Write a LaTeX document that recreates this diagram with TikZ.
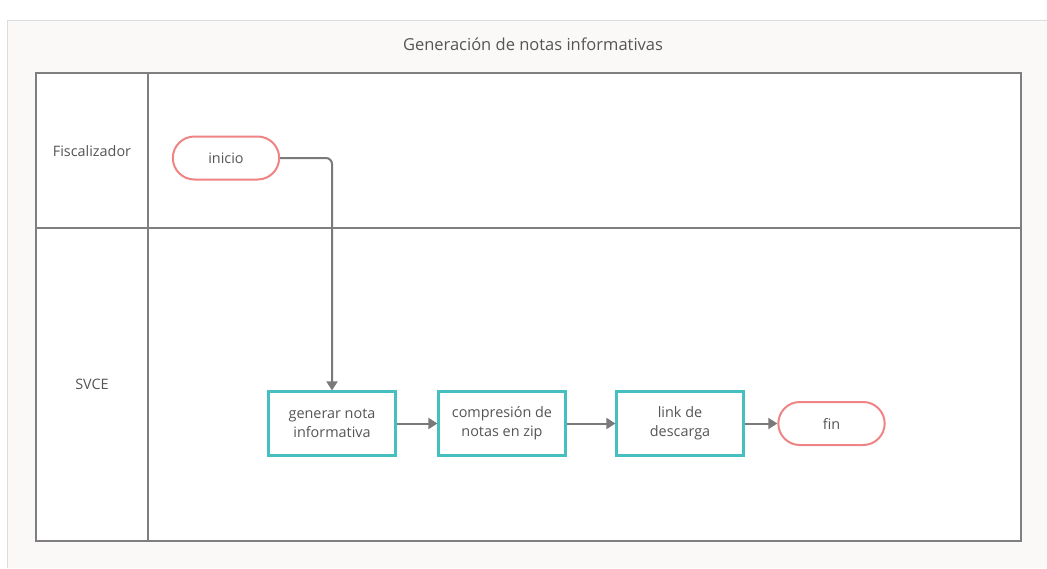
\documentclass[tikz,border=0pt]{standalone}
\usepackage{fontspec}
\setmainfont{Open Sans}
\usetikzlibrary{arrows.meta,shapes.misc}
\definecolor{panelbg}{HTML}{FAF9F7}
\definecolor{panelline}{HTML}{DCDCDC}
\definecolor{poolline}{HTML}{7F7F7F}
\definecolor{txt}{HTML}{555555}
\definecolor{teal}{HTML}{45BFBF}
\definecolor{pinkred}{HTML}{F08383}
\definecolor{conn}{HTML}{7A7A7A}
\tikzset{
  x=1pt,y=-1pt,
  lane/.style={draw=poolline,line width=1.5pt},
  task/.style={draw=teal,line width=2.2pt,fill=white,minimum width=127pt,minimum height=64pt,align=center,text=txt,font=\fontsize{14.4}{19}\selectfont,inner sep=2pt},
  term/.style={draw=pinkred,line width=2pt,fill=white,rounded rectangle,minimum width=113pt,minimum height=43pt,text=txt,font=\fontsize{14.4}{18}\selectfont},
  flow/.style={draw=conn,line width=2pt,-{Triangle[length=9pt,width=11pt]},rounded corners=6pt},
  lbl/.style={text=txt,font=\fontsize{14.4}{18}\selectfont}
}
\begin{document}
\begin{tikzpicture}
\useasboundingbox (0,0) rectangle (1047,568);
\fill[white] (0,0) rectangle (1047,568);
\fill[panelbg] (7,20) rectangle (1047,568);
\draw[panelline,line width=1pt] (7,568) -- (7,20) -- (1047,20);
\node[text=txt,font=\fontsize{16.5}{20}\selectfont] (title) at (533,44) {Generación de notas informativas};
% pool
\fill[white] (36,73) rectangle (1021,541);
\draw[lane] (36,73) rectangle (1021,541);
\draw[lane] (148,73) -- (148,541);
\draw[lane] (36,228) -- (1021,228);
\node[lbl] (l1) at (92,151) {Fiscalizador};
\node[lbl] (l2) at (92,384) {SVCE};
% nodes
\node[term] (inicio) at (226,158) {inicio};
\node[task] (gen) at (332,423.5) {generar nota\\informativa};
\node[task] (comp) at (502,423.5) {compresión de\\notas en zip};
\node[task] (link) at (680,423.5) {link de\\descarga};
\node[term] (fin) at (831.5,423.5) {fin};
% connectors
\draw[flow] (inicio.east) -| (gen.north);
\draw[flow] (gen) -- (comp);
\draw[flow] (comp) -- (link);
\draw[flow] (link) -- (fin);
\end{tikzpicture}
\end{document}
